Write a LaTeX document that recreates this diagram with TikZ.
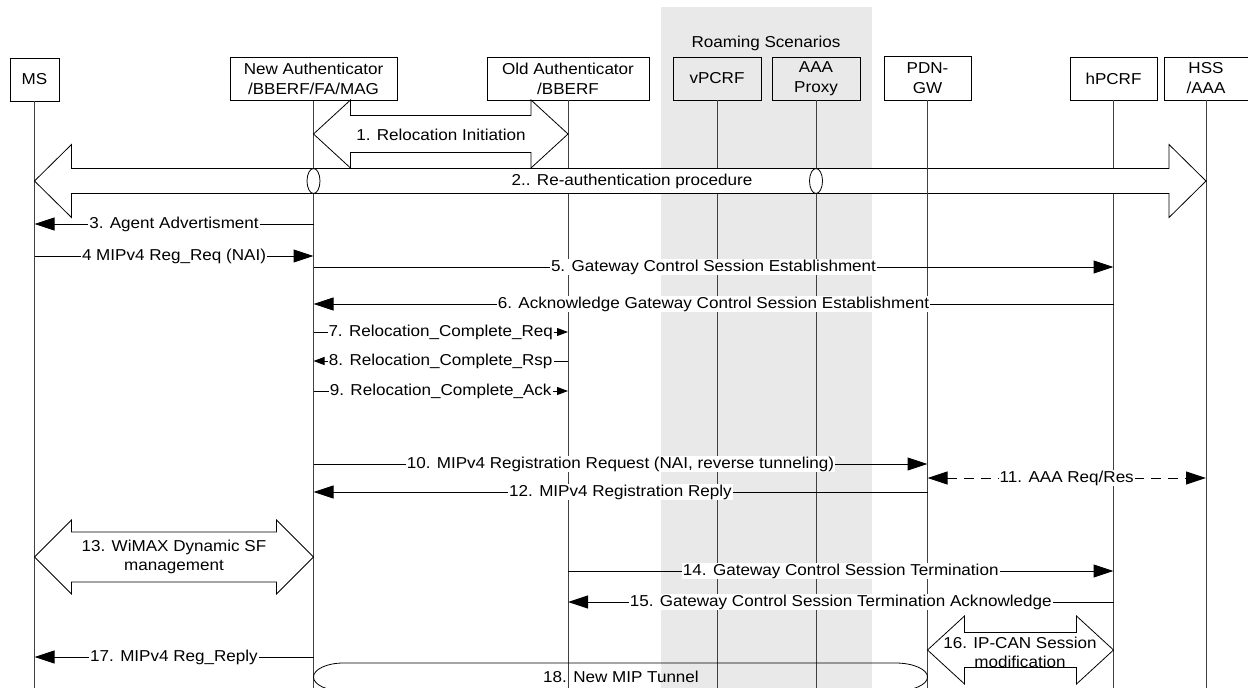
\documentclass[tikz,border=0pt]{standalone}
\usepackage{fontspec}
\setmainfont{Liberation Sans}[FakeStretch=1.08]
\usetikzlibrary{arrows.meta,calc}
\definecolor{roamgray}{RGB}{233,233,233}

% double-headed block arrow between two tips:
% #1 extra style, #2 left tip, #3 right tip, #4 shaft half-height, #5 head half-height, #6 head length
\newcommand{\fatarrow}[6][]{%
  \draw[fat,#1] (#2) -- ($(#2)+(#6,-#5)$) -- ($(#2)+(#6,-#4)$) -- ($(#3)+(-#6,-#4)$)
    -- ($(#3)+(-#6,-#5)$) -- (#3) -- ($(#3)+(-#6,#5)$) -- ($(#3)+(-#6,#4)$)
    -- ($(#2)+(#6,#4)$) -- ($(#2)+(#6,#5)$) -- cycle;}

\begin{document}
\begin{tikzpicture}[x=1pt,y=-1pt,
  every node/.style={font=\fontsize{15.8}{20}\selectfont},
  actor/.style={draw, line width=0.8pt, minimum height=43pt, inner sep=0pt, align=center},
  life/.style={line width=0.8pt, black!75},
  msg/.style={line width=1pt, -{Triangle[length=20pt,width=13pt]}},
  smallmsg/.style={line width=1pt, -{Triangle[length=11pt,width=8pt]}},
  lbl/.style={fill=white, inner xsep=1pt, inner ysep=0.5pt},
  fat/.style={draw, line width=0.8pt},
]
\useasboundingbox (0,0) rectangle (1248,688);
\clip (0,0) rectangle (1248,688);

% roaming area
\fill[roamgray] (661,7) rectangle (872,688);
\node (roam) at (766,43) {Roaming Scenarios};

% entities
\node[actor, minimum width=49pt] (ms) at (34.5,79.5) {MS};
\node[actor, minimum width=167pt] (na) at (313.5,79) {New Authenticator\\/BBERF/FA/MAG};
\node[actor, minimum width=162pt] (oa) at (568,78.5) {Old Authenticator\\/BBERF};
\node[actor, minimum width=88pt] (vp) at (717,78.5) {vPCRF};
\node[actor, minimum width=88pt] (ap) at (816,78.5) {AAA\\Proxy};
\node[actor, minimum width=87pt, minimum height=44pt] (gw) at (927.5,78) {PDN-\\GW};
\node[actor, minimum width=87pt] (hp) at (1113.5,78.5) {hPCRF};
\node[actor, minimum width=84pt] (hss) at (1206,78.5) {HSS\\/AAA};

% lifelines
\foreach \n in {ms,na,oa,vp,ap,hp,hss}
  \draw[life] (\n.south) -- (\n.south |- 0,688);

% 1. relocation initiation
\coordinate (r1L) at (na |- 0,134);
\coordinate (r1R) at (oa |- 0,134);
\fatarrow{r1L}{r1R}{18.5}{34}{37}
\node (t1) at (441,135) {1. Relocation Initiation};

% 2. re-authentication
\coordinate (r2L) at (ms |- 0,181);
\coordinate (r2R) at (hss |- 0,181);
\fatarrow[fill=white]{r2L}{r2R}{12.5}{36.5}{37}
\draw[line width=0.8pt, fill=white] (na |- 0,181) ellipse [x radius=6.5, y radius=12.5];
\draw[line width=0.8pt, fill=white] (ap |- 0,181) ellipse [x radius=6.5, y radius=12.5];
\node (t2) at (632,181) {2.. Re-authentication procedure};
\draw[life] (gw.south) -- (gw.south |- 0,688);

% messages
\draw[msg] (na |- 0,224) -- (ms |- 0,224) node[lbl,midway] {3. Agent Advertisment};
\draw[msg] (ms |- 0,256) -- (na |- 0,256) node[lbl,midway] {4 MIPv4 Reg\_Req (NAI)};
\draw[msg] (na |- 0,267) -- (hp |- 0,267) node[lbl,midway] {5. Gateway Control Session Establishment};
\draw[msg] (hp |- 0,304) -- (na |- 0,304) node[lbl,midway] {6. Acknowledge Gateway Control Session Establishment};
\draw[smallmsg] (na |- 0,332) -- (oa |- 0,332) node[lbl,midway] {7. Relocation\_Complete\_Req};
\draw[smallmsg] (oa |- 0,361) -- (na |- 0,361) node[lbl,midway] {8. Relocation\_Complete\_Rsp};
\draw[smallmsg] (na |- 0,391) -- (oa |- 0,391) node[lbl,midway] {9. Relocation\_Complete\_Ack};
\draw[msg] (na |- 0,464) -- (gw |- 0,464) node[lbl,midway] {10. MIPv4 Registration Request (NAI, reverse tunneling)};
\draw[msg, {Triangle[length=20pt,width=13pt]}-{Triangle[length=20pt,width=13pt]}, dash pattern=on 10pt off 7pt]
  (gw |- 0,478) -- (hss |- 0,478) node[lbl,midway] {11. AAA Req/Res};
\draw[msg] (gw |- 0,492) -- (na |- 0,492) node[lbl,midway] {12. MIPv4 Registration Reply};

% 13. WiMAX dynamic SF management
\coordinate (r13L) at (ms |- 0,557);
\coordinate (r13R) at (na |- 0,557);
\fatarrow{r13L}{r13R}{25}{37}{37}
\node[align=center, font=\fontsize{15.8}{19}\selectfont] (t13) at (174,557) {13. WiMAX Dynamic SF\\management};

\draw[msg] (oa |- 0,571) -- (hp |- 0,571) node[lbl,midway] {14. Gateway Control Session Termination};
\draw[msg] (hp |- 0,602) -- (oa |- 0,602) node[lbl,midway] {15. Gateway Control Session Termination Acknowledge};

% 16. IP-CAN session modification
\coordinate (r16L) at (gw |- 0,650);
\coordinate (r16R) at (hp |- 0,650);
\fatarrow{r16L}{r16R}{17.5}{34}{37}
\node[align=center, font=\fontsize{15.8}{19}\selectfont] (t16) at (1020,652.5) {16. IP-CAN Session\\modification};

\draw[msg] (na |- 0,657) -- (ms |- 0,657) node[lbl,midway] {17. MIPv4 Reg\_Reply};

% 18. new MIP tunnel
\draw[line width=0.8pt] ($(na |- 0,663)+(30,0)$) -- ($(gw |- 0,663)+(-32,0)$)
  arc[start angle=-90, end angle=90, x radius=32, y radius=14]
  -- ($(na |- 0,691)+(30,0)$)
  arc[start angle=90, end angle=270, x radius=30, y radius=14] -- cycle;
\node (t18) at (621,677) {18. New MIP Tunnel};
\end{tikzpicture}
\end{document}
